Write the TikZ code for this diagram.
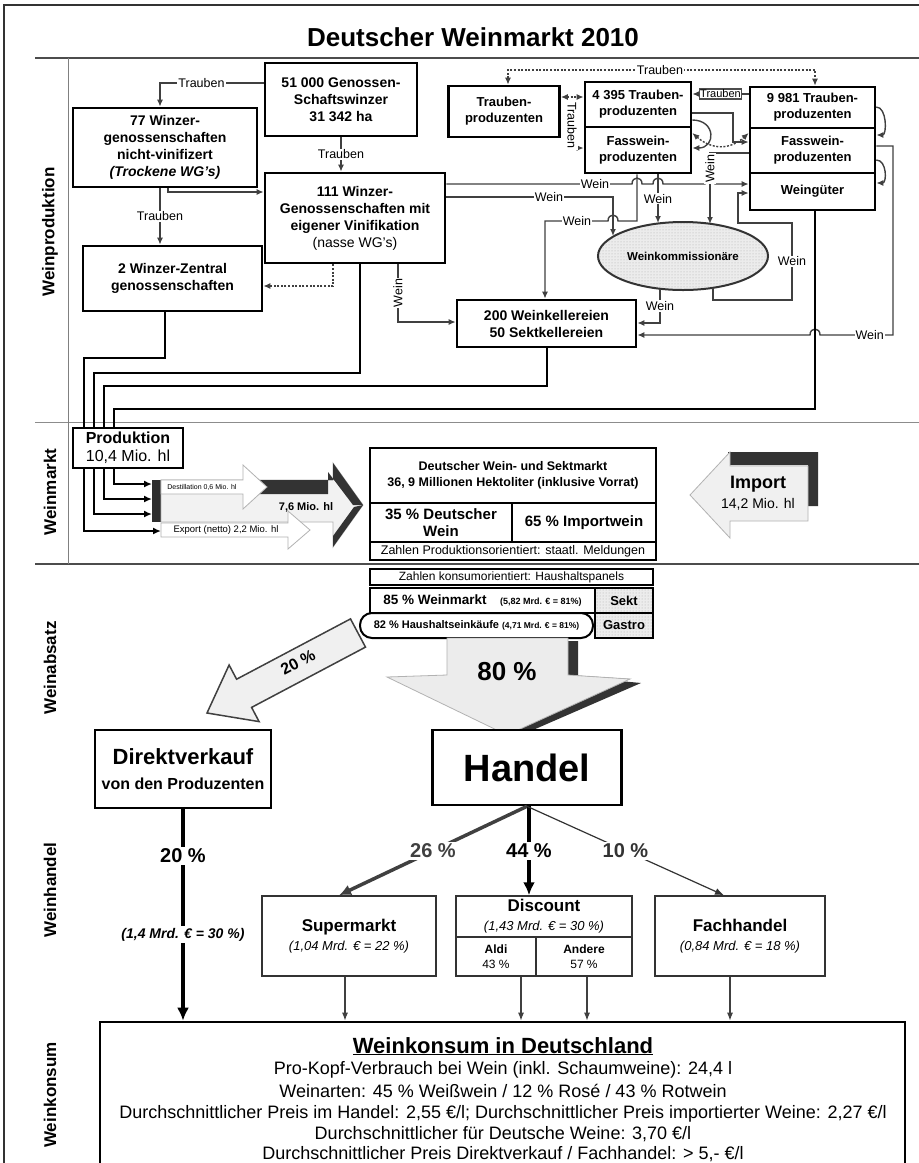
\documentclass[tikz,border=0pt]{standalone}
\usepackage{fontspec}
\setmainfont{Liberation Sans}
\usetikzlibrary{arrows.meta,patterns,shapes.geometric}
\newcommand\fz[2]{\fontsize{#1}{#2}\selectfont}
\begin{document}
\begin{tikzpicture}[x=1pt,y=-1pt,
  pbox/.style={draw=black, line width=2.6pt, fill=white, align=center, inner sep=0pt, font=\bfseries\fz{14}{17}},
  sbox/.style={pbox, font=\bfseries\fz{13}{16}},
  lbox/.style={draw=black!80, line width=1.5pt, fill=white, align=center, inner sep=0pt},
  con/.style={draw=black!75, line width=1.4pt},
  arr/.style={-{Latex[length=7pt,width=6pt]}},
  darr/.style={{Latex[length=7pt,width=6pt]}-{Latex[length=7pt,width=6pt]}},
  dotl/.style={dash pattern=on 2pt off 1.6pt},
  lab/.style={fill=white, inner sep=1pt, font=\fz{12.5}{14}},
  thk/.style={draw=black, line width=2.4pt, -{Latex[length=8pt,width=7pt]}},
  sec/.style={rotate=90, font=\bfseries\fz{17}{20}},
  dotfill/.style={preaction={fill=gray!15}, pattern=dots, pattern color=gray!65},
  plab/.style={fill=white, inner sep=2pt, font=\bfseries\fz{20}{22}},
  sarr/.style={draw=black!75, line width=1.2pt, -{Latex[length=8pt,width=6pt]}},
  blk/.style={draw=gray!60, line width=0.8pt},
]
\useasboundingbox (0,0) rectangle (919,1163);
\fill[white] (0,0) rectangle (919,1163);

% ---------- frame, title, separators ----------
\draw[line width=1.5pt, black!80] (4,1163) -- (4,5) -- (919,5);
\node[font=\bfseries\fz{26}{30}] (title) at (473,37) {Deutscher Weinmarkt 2010};
\draw[line width=2.5pt, black!70] (35,58) -- (919,58);
\draw[line width=1pt, black!45] (35,422) -- (919,422);
\draw[line width=2.5pt, black!70] (35,564) -- (919,564);
\draw[line width=1pt, black!50] (68,58) -- (68,564);

\node[sec] (secA) at (50,232) {Weinproduktion};
\node[sec] (secB) at (50,492) {Weinmarkt};
\node[sec] (secC) at (50,668) {Weinabsatz};
\node[sec] (secD) at (50,890) {Weinhandel};
\node[sec] (secE) at (50,1095) {Weinkonsum};

% ---------- Weinproduktion boxes ----------
\node[pbox, minimum width=152pt, minimum height=73pt] (g51) at (341,99.5) {51 000 Genossen-\\Schaftswinzer\\31 342 ha};
\node[pbox, minimum width=184pt, minimum height=79pt] (g77) at (165,147.5) {77 Winzer-\\genossenschaften\\nicht-vinifizert\\{\itshape (Trockene WG's)}};
\node[pbox, minimum width=180pt, minimum height=90pt] (g111) at (355,218) {111 Winzer-\\Genossenschaften mit\\eigener Vinifikation\\{\mdseries (nasse WG's)}};
\node[pbox, minimum width=179pt, minimum height=65pt] (g2) at (172.5,278.5) {2 Winzer-Zentral\\genossenschaften};
\node[sbox, minimum width=111pt, minimum height=51pt] (gTP) at (504,111.5) {Trauben-\\produzenten};
\node[sbox, minimum width=106pt, minimum height=45pt] (g43a) at (638,104.5) {4 395 Trauben-\\produzenten};
\node[sbox, minimum width=106pt, minimum height=46pt] (g43b) at (638,150) {Fasswein-\\produzenten};
\node[sbox, minimum width=125pt, minimum height=41pt] (g99a) at (812.5,107.5) {9 981 Trauben-\\produzenten};
\node[sbox, minimum width=125pt, minimum height=45pt] (g99b) at (812.5,150.5) {Fasswein-\\produzenten};
\node[sbox, minimum width=125pt, minimum height=37pt] (g99c) at (812.5,191.5) {Weingüter};
\node[ellipse, draw=black!80, line width=2pt, dotfill, minimum width=170pt, minimum height=68pt, inner sep=0pt, font=\bfseries\fz{11.5}{13}] (ell) at (683,256) {Weinkommissionäre};
\node[pbox, minimum width=179pt, minimum height=47pt] (g200) at (546.5,323.5) {200 Weinkellereien\\50 Sektkellereien};

% ---------- Weinproduktion connectors ----------
\draw[con,arr] (g51.west |- 0,83) -- node[lab,pos=0.6]{Trauben} (160,83) -- (g77.north -| 160,0);
\draw[con,arr] (g51.south) -- node[lab]{Trauben} (g111.north -| g51.south);
\draw[con,arr] (g77.south -| 160,0) -- node[lab]{Trauben} (g2.north -| 160,0);
\draw[con,arr] (g77.south -| 168,0) -- (168,192) -- (g111.west |- 0,192);
\draw[con,dotl,line width=2pt,arr] (g111.south -| 333,0) -- (333,286) -- (g2.east |- 0,286);
\draw[con,arr] (g111.south -| 398,0) -- node[lab,rotate=90]{Wein} (398,322) -- (g200.west |- 0,322);

\draw[con,arr] (g111.east |- 0,184) -- (632,184) .. controls (632,176) and (642,176) .. (642,184) -- (653,184) .. controls (653,176) and (663,176) .. (663,184) -- (705,184) .. controls (705,176) and (715,176) .. (715,184) -- (g99c.west |- 0,184);
\node[lab] (lw1) at (595,184) {Wein};
\draw[con,arr] (g111.east |- 0,197) -- (613,197) -- (613,236);
\node[lab] (lw2) at (549,197) {Wein};
\draw[con,arr] (g43b.south -| 637,0) -- (637,221) -- (618,221) .. controls (618,213) and (608,213) .. (608,221) -- (545,221) -- (g200.north -| 545,0);
\node[lab] (lw3) at (577,221) {Wein};
\draw[con,arr] (g43b.south -| 658,0) -- node[lab]{Wein} (658,223);
\draw[con,arr] (g99b.west |- 0,153) -- (710,153) -- node[lab,rotate=90,pos=0.22]{Wein} (710,224);
\draw[con,arr] (713,288) -- (713,300) -- (792,300) -- node[lab]{Wein} (792,223) -- (738,223) -- (738,193) -- (g99c.west |- 0,193);
\draw[con,arr] (660,289) -- node[lab]{Wein} (660,323) -- (g200.east |- 0,323);
\draw[con,arr] (g99b.east |- 0,146) -- (893,146) -- (893,335) -- node[lab,pos=0.32]{Wein} (820,335) .. controls (820,327) and (810,327) .. (810,335) -- (g200.east |- 0,335);
\draw[con,arr] (g99a.east |- 0,107) .. controls (887,107) and (887,135) .. (g99b.east |- 0,135);
\draw[con,arr] (g99b.east |- 0,160) .. controls (887,160) and (887,183) .. (g99c.east |- 0,183);
\draw[con,dotl,line width=1.4pt,darr] (gTP.north -| 508,0) -- (508,70) -- (815,70) -- (g99a.north -| 815,0);
\node[lab] (lt1) at (660,70) {Trauben};
\draw[con,dotl,darr] (gTP.east |- 0,97) -- (g43a.west |- 0,97);
\draw[con,arr] (572,103) -- node[lab,rotate=-90]{Trauben} (572,148) -- (g43b.west |- 0,148);
\draw[con,arr] (g99a.west |- 0,94) -- node[lab,draw=black!70,inner sep=0.8pt,font=\fz{11}{12}]{Trauben} (g43a.east |- 0,94);
\draw[con,arr] (g43a.east |- 0,113) -- (733,113) -- (733,142) -- (g99b.west |- 0,142);
\draw[con,arr] (g43a.east |- 0,120) .. controls (716,120) and (716,148) .. (g43b.east |- 0,148);
\draw[con,dotl,darr] (g43b.east |- 0,133) .. controls (712,150) and (730,150) .. (g99b.west |- 0,133);

% ---------- lines to Produktion ----------
\draw[thk] (g2.south -| 165,0) -- (165,358) -- (84,358) -- (84,531) -- (161,531);
\draw[thk] (g111.south -| 360,0) -- (360,373) -- (94,373) -- (94,514) -- (152,514);
\draw[thk] (g200.south -| 547,0) -- (547,386) -- (104,386) -- (104,499) -- (152,499);
\draw[thk] (g99c.south -| 815,0) -- (815,409) -- (114,409) -- (114,484) -- (152,484);

% ---------- Weinmarkt block arrows ----------
\fill[gray!35!black] (152,480) rectangle (161,522);
\draw[blk, fill=gray!10] (161,480) -- (333,480) -- (333,463) -- (363,505) -- (333,547) -- (333,522) -- (161,522) -- cycle;
\fill[gray!40!black] (243,480) -- (333,480) -- (333,463) -- (363,505) -- (353,505) -- (328,472) -- (328,494) -- (243,494) -- cycle;
\fill[gray!40!black] (363,505) -- (333,547) -- (333,536) -- (354,507) -- cycle;
\draw[blk, fill=white] (161,480) -- (243,480) -- (243,465) -- (267,487) -- (243,509) -- (243,494) -- (161,494) -- cycle;
\draw[blk, fill=white] (161,523) -- (288,523) -- (288,511) -- (310,530) -- (288,549) -- (288,537) -- (161,537) -- cycle;
\node[font=\fz{7}{8}] (tdest) at (202,487) {Destillation 0,6 Mio. hl};
\node[font=\fz{9.5}{10}] (texp) at (226,530) {Export (netto) 2,2 Mio. hl};
\node[font=\bfseries\fz{11}{13}] (t76) at (306,507) {7,6 Mio. hl};

\node[pbox, font=\fz{16}{18}, minimum width=110pt, minimum height=40pt] (prod) at (128,448) {\textbf{Produktion}\\10,4 Mio. hl};

\node[pbox, font=\bfseries\fz{12.5}{16}, minimum width=286pt, minimum height=55pt] (wm1) at (513,475.5) {Deutscher Wein- und Sektmarkt\\36, 9 Millionen Hektoliter (inklusive Vorrat)};
\node[pbox, font=\bfseries\fz{15}{17}, minimum width=142pt, minimum height=39pt] (wm2) at (441,522.5) {35 \% Deutscher\\Wein};
\node[pbox, font=\bfseries\fz{15}{17}, minimum width=144pt, minimum height=39pt] (wm3) at (584,522.5) {65 \% Importwein};
\node[pbox, font=\fz{12.5}{14}, minimum width=286pt, minimum height=18pt] (wm4) at (513,551) {Zahlen Produktionsorientiert: staatl. Meldungen};

\fill[gray!40!black] (728,452) -- (818,452) -- (818,506) -- (808,506) -- (808,465) -- (728,465) -- cycle;
\draw[blk, fill=gray!12] (690,495) -- (730,452) -- (730,466) -- (808,466) -- (808,521) -- (730,521) -- (730,538) -- cycle;
\node[font=\bfseries\fz{18}{20}] (imp) at (758,484) {Import};
\node[font=\fz{14}{16}] (impv) at (758,504) {14,2 Mio. hl};

% ---------- Weinabsatz ----------
\node[draw=black, line width=2pt, fill=white, minimum width=283pt, minimum height=16pt, inner sep=0pt, font=\fz{12}{14}] (zk) at (511.5,577) {Zahlen konsumorientiert: Haushaltspanels};
\node[draw=black, line width=2pt, fill=white, minimum width=225pt, minimum height=25pt, inner sep=0pt, font=\bfseries] (w85) at (482.5,600.5) {\fz{13.5}{15}85 \% Weinmarkt\quad{\fz{9}{10}(5,82 Mrd. € = 81\%)}};
\node[draw=black, line width=2pt, dotfill, minimum width=58pt, minimum height=25pt, inner sep=0pt, font=\bfseries\fz{13}{15}] (sekt) at (624,600.5) {Sekt};
\node[draw=black, line width=2pt, fill=white, rounded corners=12pt, minimum width=233pt, minimum height=25pt, inner sep=0pt, font=\bfseries] (hh) at (476.5,625.5) {\fz{11}{13}82 \% Haushaltseinkäufe {\fz{8.5}{10}(4,71 Mrd. € = 81\%)}};
\node[draw=black, line width=2pt, dotfill, minimum width=58pt, minimum height=25pt, inner sep=0pt, font=\bfseries\fz{13}{15}] (gast) at (624,625.5) {Gastro};

\fill[gray!40!black] (568,641) -- (578,641) -- (578,677) -- (641,683) -- (510,740) -- (505,733) -- (630,679) -- (568,675) -- cycle;
\draw[blk, fill=gray!15] (447,638) -- (568,638) -- (568,675) -- (630,679) -- (507,735) -- (387,677) -- (447,675) -- cycle;
\node[font=\bfseries\fz{26}{28}] (p80) at (507,672) {80 \%};

\draw[draw=black!75, line width=1.5pt, fill=gray!12] (350.5,618.9) -- (236.6,679.2) -- (229.1,665.0) -- (207,713) -- (259.1,721.6) -- (251.6,707.4) -- (365.5,647.1) -- cycle;
\node[font=\bfseries\fz{16}{18}, rotate=28, inner sep=0pt] (p20) at (298,662) {20 \%};

\node[pbox, font=\bfseries\fz{16}{25}, minimum width=176pt, minimum height=78pt] (dir) at (183,769) {{\fontsize{22}{25}\selectfont Direktverkauf}\\{\fontsize{16}{25}\selectfont von den Produzenten}};
\node[pbox, font=\bfseries\fz{38}{40}, minimum width=189pt, minimum height=75pt] (hand) at (527,767.5) {Handel};

% ---------- Weinhandel ----------
\node[lbox, font=\fz{13}{19}, minimum width=174pt, minimum height=80pt] (sup) at (349,936) {{\bfseries\fontsize{17}{19}\selectfont Supermarkt}\\{\itshape\fontsize{13}{19}\selectfont (1,04 Mrd. € = 22 \%)}};
\node[lbox, font=\fz{13}{19}, minimum width=176pt, minimum height=41pt] (disc) at (544,916.5) {{\bfseries\fontsize{17}{19}\selectfont Discount}\\{\itshape\fontsize{13}{19}\selectfont (1,43 Mrd. € = 30 \%)}};
\node[lbox, minimum width=80pt, minimum height=39pt, font=\fz{12}{15}] (aldi) at (496,956.5) {\textbf{Aldi}\\43 \%};
\node[lbox, minimum width=96pt, minimum height=39pt, font=\fz{12}{15}] (andr) at (584,956.5) {\textbf{Andere}\\57 \%};
\node[lbox, font=\fz{13}{19}, minimum width=170pt, minimum height=80pt] (fach) at (740,936) {{\bfseries\fontsize{17}{19}\selectfont Fachhandel}\\{\itshape\fontsize{13}{19}\selectfont (0,84 Mrd. € = 18 \%)}};

% ---------- Weinkonsum ----------
\node[draw=black, line width=2.6pt, minimum width=805pt, minimum height=160pt, inner sep=0pt] (wk) at (502.5,1102) {};
\node[font=\bfseries\fz{22}{26}, anchor=base] (wkt) at (503,1053) {\underline{Weinkonsum in Deutschland}};
\node[font=\fz{18}{21}, anchor=base] (wl1) at (503,1074) {Pro-Kopf-Verbrauch bei Wein (inkl. Schaumweine): 24,4 l};
\node[font=\fz{18}{21}, anchor=base] (wl2) at (503,1097) {Weinarten: 45 \% Weißwein / 12 \% Rosé / 43 \% Rotwein};
\node[font=\fz{18}{21}, anchor=base] (wl3) at (503,1118) {Durchschnittlicher Preis im Handel: 2,55 €/l; Durchschnittlicher Preis importierter Weine: 2,27 €/l};
\node[font=\fz{18}{21}, anchor=base] (wl4) at (503,1139) {Durchschnittlicher für Deutsche Weine: 3,70 €/l};
\node[font=\fz{18}{21}, anchor=base] (wl5) at (503,1159) {Durchschnittlicher Preis Direktverkauf / Fachhandel: > 5,- €/l};

% ---------- lower connectors ----------
\draw[line width=3.5pt, gray!50!black, -{Latex[length=12pt,width=11pt]}] (hand.south) -- node[plab]{26 \%} (sup.north -| 339,0);
\draw[line width=4.5pt, black, -{Latex[length=13pt,width=12pt]}] (hand.south -| 529,0) -- node[plab]{44 \%} (disc.north -| 529,0);
\draw[line width=1.2pt, black!80, -{Latex[length=9pt,width=7pt]}] (hand.south) -- node[plab]{10 \%} (fach.north -| 724,0);
\draw[line width=4.5pt, black, -{Latex[length=13pt,width=12pt]}] (dir.south) -- node[plab,pos=0.22]{20 \%} node[fill=white, inner sep=2pt, font=\bfseries\itshape\fz{14}{16}, pos=0.593]{(1,4 Mrd. € = 30 \%)} (wk.north -| dir.south);
\draw[sarr] (sup.south -| 345,0) -- (wk.north -| 345,0);
\draw[sarr] (aldi.south -| 521,0) -- (wk.north -| 521,0);
\draw[sarr] (andr.south -| 587,0) -- (wk.north -| 587,0);
\draw[sarr] (fach.south -| 730,0) -- (wk.north -| 730,0);
\end{tikzpicture}
\end{document}
